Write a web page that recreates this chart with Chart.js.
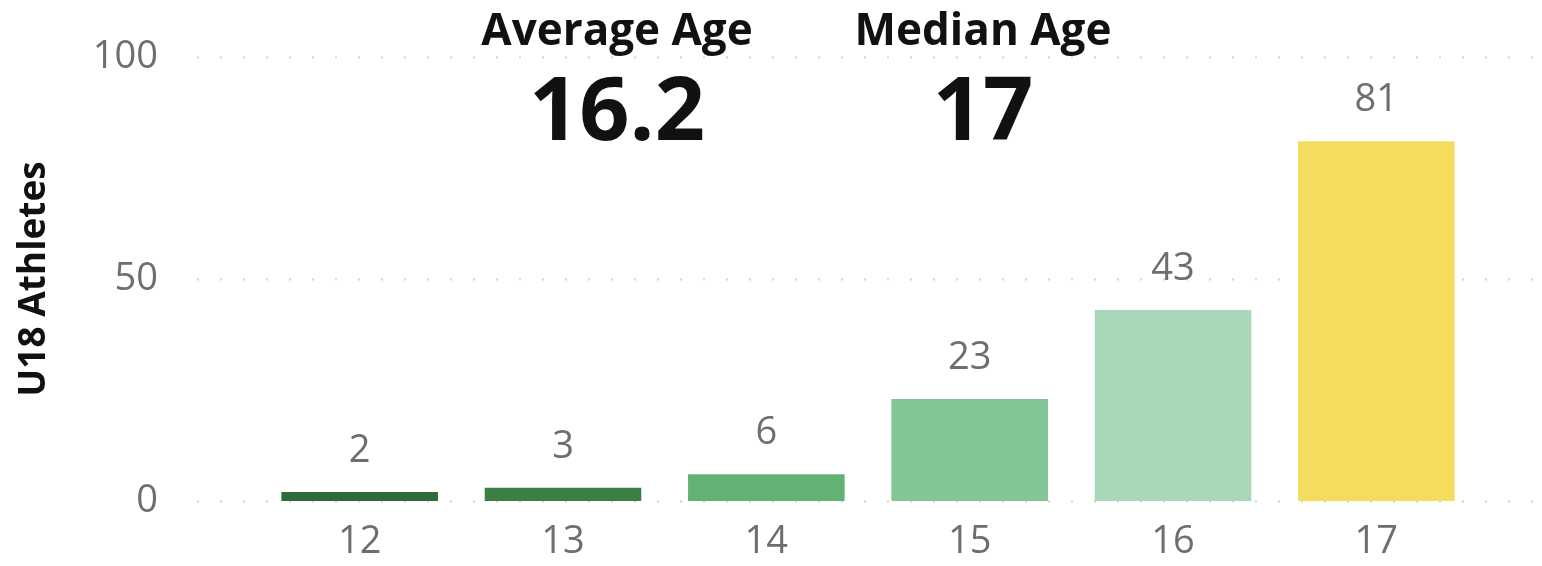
<!DOCTYPE html>
<html lang="en">
<head>
    <meta charset="UTF-8">
    <title>U18 Athletes by Age</title>
    <style>
        body {
            margin: 0;
            padding: 0;
            background-color: #fff;
            font-family: "Open Sans", Arial, sans-serif;
        }

        .wrap {
            position: relative;
            width: 1542px;
            height: 566px;
        }

        .card {
            position: absolute;
            top: 0;
            width: 340px;
            text-align: center;
            color: #111;
            font-weight: bold;
        }

        .card .label {
            font-size: 44px;
            line-height: 56px;
        }

        .card .value {
            font-size: 88px;
            line-height: 100px;
        }
    </style>
</head>
<body>
    <div class="wrap">
        <canvas id="ageChart" width="1542" height="566"></canvas>
        <div class="card" style="left: 447px;">
            <div class="label">Average Age</div>
            <div class="value">16.2</div>
        </div>
        <div class="card" style="left: 813px;">
            <div class="label">Median Age</div>
            <div class="value">17</div>
        </div>
    </div>

    <script src="https://cdn.jsdelivr.net/npm/chart.js"></script>
    <script>
        const ages = ['12', '13', '14', '15', '16', '17'];
        const athletes = [2, 3, 6, 23, 43, 81];
        const barColors = ['#2d6b39', '#3a7f43', '#62b274', '#82c597', '#a8d8b7', '#f5dc5e'];
        const yTicks = [0, 50, 100];

        // dotted grid that runs past the plot area like the original
        const dottedGrid = {
            id: 'dottedGrid',
            beforeDatasetsDraw(chart) {
                const ctx = chart.ctx;
                const y = chart.scales.y;
                ctx.save();
                ctx.strokeStyle = '#d2d2d2';
                ctx.lineWidth = 2;
                ctx.setLineDash([2, 21]);
                yTicks.forEach(v => {
                    const py = Math.round(y.getPixelForValue(v)) + 0.5;
                    ctx.beginPath();
                    ctx.moveTo(197, py);
                    ctx.lineTo(1536, py);
                    ctx.stroke();
                });
                ctx.restore();
            }
        };

        // value labels above each bar
        const barLabels = {
            id: 'barLabels',
            afterDatasetsDraw(chart) {
                const ctx = chart.ctx;
                const meta = chart.getDatasetMeta(0);
                ctx.save();
                ctx.fillStyle = '#6e6e6e';
                ctx.font = '38px "Open Sans", sans-serif';
                ctx.textAlign = 'center';
                ctx.textBaseline = 'bottom';
                meta.data.forEach((bar, i) => {
                    ctx.fillText(athletes[i], bar.x, bar.y - 22);
                });
                ctx.restore();
            }
        };

        new Chart(document.getElementById('ageChart'), {
            type: 'bar',
            data: {
                labels: ages,
                datasets: [{
                    data: athletes,
                    backgroundColor: barColors,
                    barPercentage: 0.77,
                    categoryPercentage: 1
                }]
            },
            options: {
                responsive: false,
                animation: false,
                layout: {
                    padding: { top: 57, right: 64, bottom: 0, left: 0 }
                },
                plugins: {
                    legend: { display: false },
                    tooltip: { enabled: false }
                },
                scales: {
                    x: {
                        afterFit: scale => { scale.height = 65; },
                        grid: { display: false },
                        border: { display: false },
                        ticks: {
                            color: '#6e6e6e',
                            font: { family: 'Open Sans', size: 38 },
                            padding: 10,
                            maxRotation: 0
                        }
                    },
                    y: {
                        min: 0,
                        max: 100,
                        afterFit: scale => {
                            scale.width = 258;
                            // big tick padding would otherwise eat plot height
                            scale.paddingTop = 23;
                            scale.paddingBottom = 23;
                        },
                        afterBuildTicks: scale => {
                            scale.ticks = yTicks.map(v => ({ value: v }));
                        },
                        grid: { display: false },
                        border: { display: false },
                        ticks: {
                            color: '#6e6e6e',
                            font: { family: 'Open Sans', size: 38 },
                            padding: 92
                        },
                        title: {
                            display: true,
                            text: 'U18 Athletes',
                            color: '#111',
                            font: { family: 'Open Sans', size: 37, weight: 'bold' },
                            padding: { top: 12, bottom: 0 }
                        }
                    }
                }
            },
            plugins: [dottedGrid, barLabels]
        });
    </script>
</body>
</html>
